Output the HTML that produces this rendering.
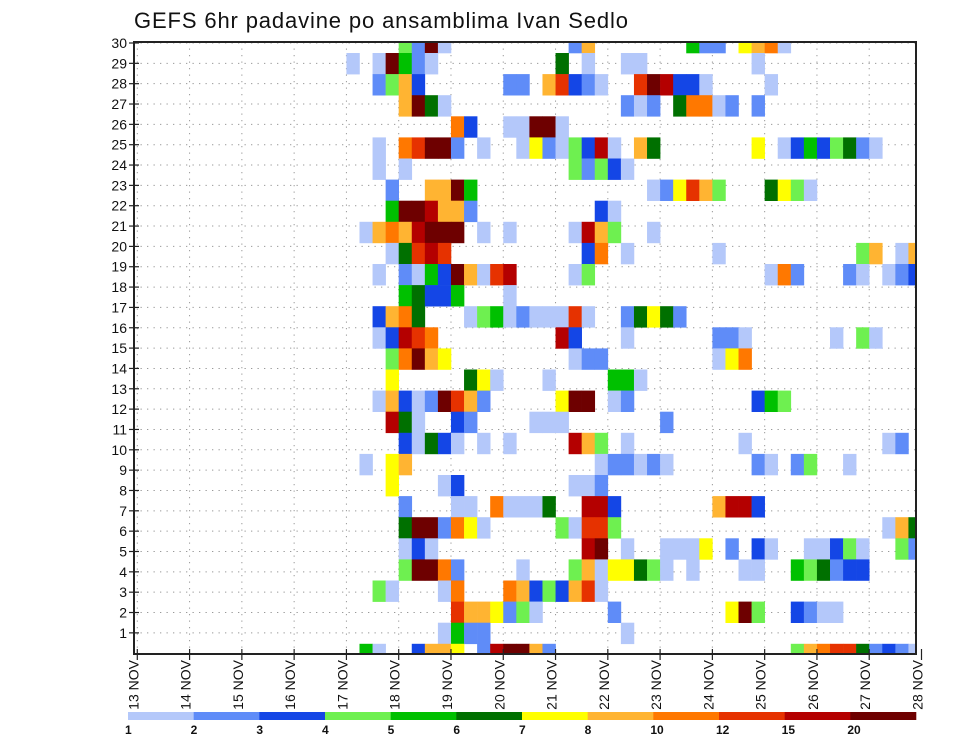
<!DOCTYPE html>
<html>
<head>
<meta charset="utf-8">
<style>
  html,body{margin:0;padding:0;background:#fff;}
  svg{display:block;font-family:"Liberation Sans",sans-serif;}
</style>
</head>
<body>
<svg id="chart" width="960" height="742" viewBox="0 0 960 742" xmlns="http://www.w3.org/2000/svg">
  <text x="134" y="28" font-size="22" fill="#111" textLength="494" lengthAdjust="spacing">GEFS 6hr padavine po ansamblima Ivan Sedlo</text>
  <defs><clipPath id="plotclip"><rect x="134" y="42" width="782" height="612"/></clipPath></defs>
  <g id="grid"></g>
  <g id="cells" clip-path="url(#plotclip)"></g>
  <rect x="134" y="42" width="782" height="612" fill="none" stroke="#222" stroke-width="2"/>
  <g id="yaxis"></g>
  <g id="xaxis"></g>
  <g id="legend"></g>
</svg>
<script>
// Each row: 6-hourly steps 17..60 in groups of 4 (steps 1..16 are empty). Top row first.
const rowCodes = [
 ".... 42c1 .... .... .28. .... ..52 2.78 91.. .... ....",
 "1.1c 521. .... .... 6.1. .11. .... ...1 .... .... ....",
 "..24 83.. .... 22.8 a321 ..ac b331 .... 1... .... ....",
 ".... 8c61 .... .... .... .212 .699 12.2 .... .... ....",
 ".... .... 93.. 11cc 1... .... .... .... .... .... ....",
 "..1. 9acc 2.1. .172 143b 1.86 .... ...7 .135 3462 1...",
 "..1. 1... .... .... .424 31.. .... .... .... .... ....",
 "...2 ..88 c5.. .... .... ...1 27a8 4... 6741 .... ....",
 "...5 ccb8 82.. .... ...3 1... .... .... .... .... ....",
 ".189 8bcc c.1. 1... .1b8 4..1 .... .... .... .... ....",
 "...1 6aba .... .... ..39 .1.. .... 1... .... ...4 8.18",
 "..1. 2153 c81a b... .14. .... .... .... 192. ..21 .123",
 ".... 5633 5... 1... .... .... .... .... .... .... ....",
 "..38 96.. .145 1211 1a1. .267 62.. .... .... .... ....",
 "..13 ba9. .... .... b3.. .1.. .... 221. .... .1.4 1...",
 "...4 9c87 .... .... .122 .... .... 179. .... .... ....",
 "...7 .... .671 ...1 .... 551. .... .... .... .... ....",
 "..18 312c a82. .... 7cc. 12.. .... ...3 54.. .... ....",
 "...b 61.. 32.. ..11 1... .... 2... .... .... .... ....",
 ".... 3163 1.1. 1... .b84 .1.. .... ..1. .... .... .12.",
 ".1.7 8... .... .... ...1 2212 1... ...2 1.24 ..1. ....",
 "...7 ...1 3... .... .112 .... .... .... .... .... ....",
 ".... 2... 11.9 1116 ..bb 3... .... 8bb3 .... .... ....",
 ".... 6cc2 971. .... 41aa 4... .... .... .... .... .186",
 ".... 131. .... .... ..bc .1.. 1117 .2.3 1..1 1341 ..42",
 ".... 4cc9 2... .1.. .481 7764 1.1. ..11 ..54 6233 ....",
 "..41 ...1 9... 9834 38a1 .... .... .... .... .... ....",
 ".... .... a887 241. .... 2... .... .7c4 ..32 11.. ....",
 ".... ...1 522. .... .... .1.. .... .... .... .... ....",
 ".51. .388 7.2b cc82 .... .... .... .... ..48 9aa6 2321"
];
const levelLabels = ["1","2","3","4","5","6","7","8","10","12","15","20"];
const levelColors = ["#b4c8fa","#5f8cf8","#1446e6","#6ef050","#00c000","#007000","#ffff00","#ffb432","#ff7800","#e63200","#b40000","#6e0000"];
const dayLabels = ["13 NOV","14 NOV","15 NOV","16 NOV","17 NOV","18 NOV","19 NOV","20 NOV","21 NOV","22 NOV","23 NOV","24 NOV","25 NOV","26 NOV","27 NOV","28 NOV"];
const yTickLabels = [1,2,3,4,5,6,7,8,9,10,11,12,13,14,15,16,17,18,19,20,21,22,23,24,25,26,27,28,29,30];

const NS = "http://www.w3.org/2000/svg";
function xStep(s){ return 137.3 + 13.07 * s; }
function xDay(d){ return xStep(4 * d); }
function yBandTop(k){ return 31.9 + 21.1 * k; }
const BAND_H = 21.1;
function yTick(v){ return 43 + (30 - v) * 20.34; }
function mk(tag, attrs, parent){
  const e = document.createElementNS(NS, tag);
  for (const a in attrs) e.setAttribute(a, attrs[a]);
  parent.appendChild(e);
  return e;
}
const grid = document.getElementById("grid");
const cells = document.getElementById("cells");
const yaxis = document.getElementById("yaxis");
const xaxis = document.getElementById("xaxis");
const legend = document.getElementById("legend");

yTickLabels.forEach(v => {
  const l = mk("line", {x1:134, x2:916, y1:yTick(v), y2:yTick(v), stroke:"#999", "stroke-width":1, "stroke-dasharray":"1.3 5.2"}, grid);
  
  
});
dayLabels.forEach((lab, d) => {
  const x = xDay(d);
  if (x > 136 && x < 915) {
    const l = mk("line", {x1:x, x2:x, y1:42, y2:654, stroke:"#999", "stroke-width":1, "stroke-dasharray":"1.3 5.2"}, grid);
    
    
  }
});

rowCodes.forEach((row, k) => {
  const codes = row.replace(/ /g, "");
  for (let s = 0; s < codes.length; s++) {
    const c = codes[s];
    if (c === ".") continue;
    const lvl = parseInt(c, 16) - 1;
    const step = 16 + s;
    const r = mk("rect", {x:xStep(step), y:yBandTop(k), width:13.07 + 0.3, height:BAND_H + 0.3, fill:levelColors[lvl]}, cells);
    
    
  }
});

yTickLabels.forEach(v => {
  const y = yTick(v);
  const t = mk("line", {x1:129, x2:139, y1:y, y2:y, stroke:"#222", "stroke-width":1.2}, yaxis);
  
  
  const tx = mk("text", {x:127, y:y + 5, "font-size":14, "text-anchor":"end", fill:"#111"}, yaxis);
  tx.textContent = v;
  
  
});

dayLabels.forEach((lab, d) => {
  const x = xDay(d);
  const t = mk("line", {x1:x, x2:x, y1:649, y2:660, stroke:"#222", "stroke-width":1.2}, xaxis);
  
  
  const tx = mk("text", {x:0, y:0, "font-size":14, "text-anchor":"end", fill:"#111",
    transform:"translate(" + (x + 1) + ",660) rotate(-90)"}, xaxis);
  tx.textContent = lab;
  
  
});

const segW = (916 - 128) / levelColors.length;
levelColors.forEach((col, i) => {
  const r = mk("rect", {x:128 + i * segW, y:712, width:segW + 0.3, height:8, fill:col}, legend);
  
  
  const tx = mk("text", {x:125 + i * segW, y:734, "font-size":12, "font-weight":"bold", fill:"#111"}, legend);
  tx.textContent = levelLabels[i];
  
  
});
</script>
</body>
</html>
